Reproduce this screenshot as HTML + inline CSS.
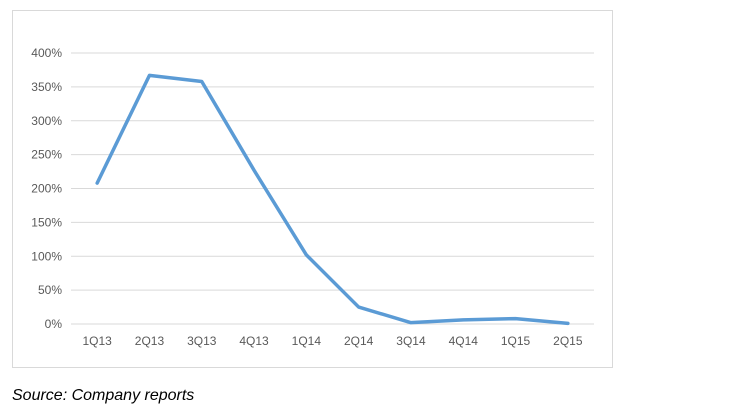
<!DOCTYPE html>
<html><head><meta charset="utf-8"><style>
body{margin:0;width:730px;height:410px;background:#fff;overflow:hidden;font-family:"Liberation Sans",sans-serif}
</style></head><body>
<svg width="730" height="410">
<rect x="12.5" y="10.5" width="600" height="357" fill="#fff" stroke="#d9d9d9"/>
<g id="grid"></g><g id="ylab"></g><g id="xlab"></g>
<polyline id="line" fill="none" stroke="#5b9bd5" stroke-width="3.5" stroke-linejoin="round" stroke-linecap="round"/>
<text x="12" y="400" font-size="16" font-style="italic" fill="#000" font-family="Liberation Sans, sans-serif">Source: Company reports</text>
</svg>
<script>
const categories=["1Q13","2Q13","3Q13","4Q13","1Q14","2Q14","3Q14","4Q14","1Q15","2Q15"];
const values=[208,367,358,227,102,25,2,6,8,1];
const yTicks=[0,50,100,150,200,250,300,350,400];
const L=71,R=594,T=53,B=324,yMax=400;
const x=i=>L+(R-L)/categories.length*(i+0.5);
const y=v=>B-(B-T)*v/yMax;
const ns="http://www.w3.org/2000/svg";
const g=document.getElementById('grid'),yl=document.getElementById('ylab'),xl=document.getElementById('xlab');
yTicks.forEach(t=>{
const l=document.createElementNS(ns,'line');


l.setAttribute('x1',L);l.setAttribute('x2',R);l.setAttribute('y1',y(t));l.setAttribute('y2',y(t));
l.setAttribute('stroke','#d9d9d9');l.setAttribute('stroke-width','1');g.appendChild(l);
const tx=document.createElementNS(ns,'text');


tx.setAttribute('x',62);tx.setAttribute('y',y(t)+4);tx.setAttribute('text-anchor','end');
tx.setAttribute('font-size','12');tx.setAttribute('fill','#595959');tx.textContent=t+'%';yl.appendChild(tx);
});
categories.forEach((c,i)=>{
const tx=document.createElementNS(ns,'text');


tx.setAttribute('x',x(i));tx.setAttribute('y',345);tx.setAttribute('text-anchor','middle');
tx.setAttribute('font-size','12');tx.setAttribute('fill','#595959');tx.textContent=c;xl.appendChild(tx);
});
document.getElementById('line').setAttribute('points',values.map((v,i)=>x(i)+','+y(v)).join(' '));
</script>
</body></html>
